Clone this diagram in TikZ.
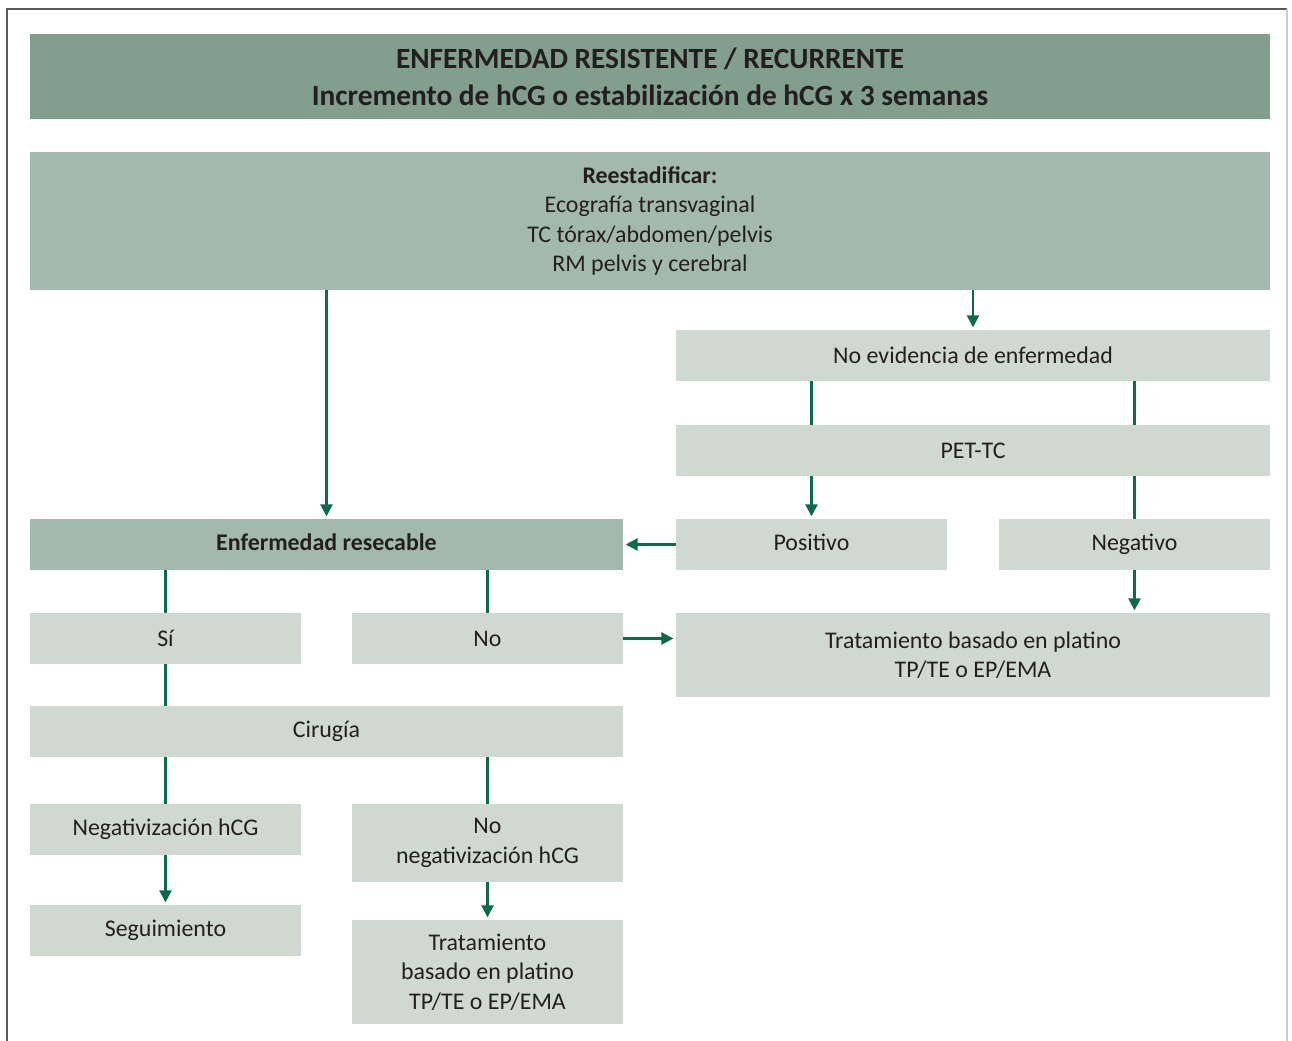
\documentclass[tikz,border=0pt]{standalone}
\usepackage{fontspec}
\setmainfont{Carlito}
\usetikzlibrary{arrows.meta,positioning}
\definecolor{greenhd}{HTML}{829E8D}
\definecolor{greenmd}{HTML}{A4B9AD}
\definecolor{greenlt}{HTML}{CFD9D2}
\definecolor{greenar}{HTML}{0D6B4B}
\definecolor{txt}{HTML}{231F20}
\tikzset{
  bx/.style={fill=greenlt,text=txt,align=center,inner sep=0pt,outer sep=0pt,minimum height=1.02cm,font=\fontsize{13.6}{16.8}\selectfont},
  bxmd/.style={bx,fill=greenmd},
  full/.style={minimum width=24.8cm},
  half/.style={minimum width=11.88cm},
  qtr/.style={minimum width=5.42cm},
  ln/.style={greenar,line width=1.4pt},
  ar/.style={ln,-{Triangle[length=2.4mm,width=2.4mm]},shorten >=1.5pt}
}

\begin{document}
\begin{tikzpicture}
\useasboundingbox (0,0) rectangle (25.84,-20.82);
\draw[gray!70!black,line width=1.2pt] (0.14,-20.82) -- (0.14,-0.18) -- (25.74,-0.18);
\draw[gray!40,line width=0.8pt] (25.74,-0.18) -- (25.74,-20.82);
% cabecera
\node[bx,fill=greenhd,full,minimum height=1.7cm,anchor=north west,font=\bfseries\fontsize{16.7}{21}\selectfont] (head) at (0.6,-0.68) {ENFERMEDAD RESISTENTE / RECURRENTE\\Incremento de hCG o estabilización de hCG x 3 semanas};
\node[bxmd,full,minimum height=2.76cm,below=0.66cm of head] (reest) {\textbf{Reestadificar:}\\Ecografía transvaginal\\TC tórax/abdomen/pelvis\\RM pelvis y cerebral};
% rama derecha
\node[bx,half,below=0.8cm of reest.south east,anchor=north east] (noev) {No evidencia de enfermedad};
\node[bx,half,below=0.88cm of noev] (pet) {PET-TC};
\node[bx,qtr,below=0.86cm of pet.south west,anchor=north west] (pos) {\strut Positivo};
\node[bx,qtr,below=0.86cm of pet.south east,anchor=north east] (neg) {\strut Negativo};
% rama izquierda
\node[bxmd,minimum width=11.86cm,left=1.06cm of pos,font=\bfseries\fontsize{13.6}{16.8}\selectfont] (resec) {\strut Enfermedad resecable};
\node[bx,qtr,below=0.86cm of resec.south west,anchor=north west] (si) {Sí};
\node[bx,qtr,below=0.86cm of resec.south east,anchor=north east] (no) {No};
\node[bx,half,minimum height=1.68cm,right=1.06cm of no.north east,anchor=north west] (trat1) {Tratamiento basado en platino\\TP/TE o EP/EMA};
\node[bx,minimum width=11.86cm,below=0.84cm of si.south west,anchor=north west] (cir) {Cirugía};
\node[bx,qtr,below=0.94cm of cir.south west,anchor=north west] (neghcg) {Negativización hCG};
\node[bx,qtr,minimum height=1.56cm,below=0.94cm of cir.south east,anchor=north east] (nonega) {No\\negativización hCG};
\node[bx,qtr,below=1.0cm of neghcg] (seg) {Seguimiento};
\node[bx,qtr,minimum height=2.08cm,below=0.76cm of nonega] (trat2) {Tratamiento\\basado en platino\\TP/TE o EP/EMA};
% conectores
\draw[ar] (reest.south -| resec) -- (resec);
\draw[ar] (reest.south -| noev) -- (noev);
\foreach \c in {pos,neg}{\draw[ln] (noev.south -| \c) -- (pet.north -| \c);}
\draw[ar] (pet.south -| pos) -- (pos);
\draw[ln] (pet.south -| neg) -- (neg);
\draw[ar] (neg) -- (trat1.north -| neg);
\draw[ar] (pos) -- (resec);
\draw[ar] (no) -- (no -| trat1.west);
\foreach \c in {si,no}{\draw[ln] (resec.south -| \c) -- (\c);}
\draw[ln] (si) -- (cir.north -| si);
\foreach \c in {neghcg,nonega}{\draw[ln] (cir.south -| \c) -- (\c);}
\draw[ar] (neghcg) -- (seg);
\draw[ar] (nonega) -- (trat2);
\end{tikzpicture}
\end{document}
